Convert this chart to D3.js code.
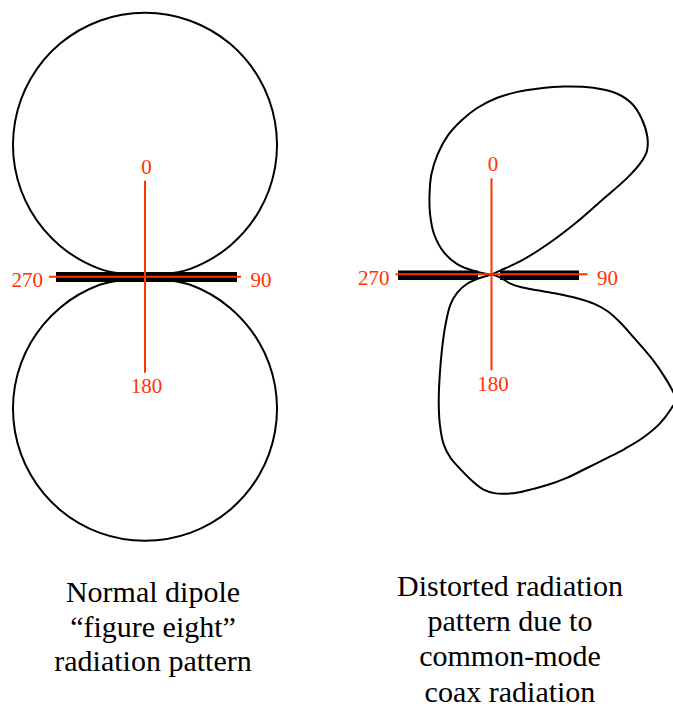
<!DOCTYPE html>
<html><head><meta charset="utf-8">
<script src="https://cdn.jsdelivr.net/npm/d3@7"></script>
<style>html,body{margin:0;padding:0;background:#fff;} svg{display:block}</style>
</head><body>
<svg id="chart" width="673" height="711"></svg>
<script>
// ---------------- data ----------------
// compass angles (degrees, 0 = up, clockwise) and labels of the reference axes
const axisAngles = [0, 90, 180, 270];
const axisLabels = ["0", "90", "180", "270"];

// normal dipole "figure eight": angle (deg) and relative field strength, in drawing order
const dipoleAngles = [90, 80, 70, 60, 50, 40, 30, 20, 10, 0, 350, 340, 330, 320, 310, 300, 290, 280,
                      270, 100, 110, 120, 130, 140, 150, 160, 170, 180, 190, 200, 210, 220, 230, 240, 250, 260];
const dipoleGain   = [0, 0.174, 0.342, 0.500, 0.643, 0.766, 0.866, 0.940, 0.985, 1.000, 0.985, 0.940, 0.866, 0.766, 0.643, 0.500, 0.342, 0.174,
                      0, 0.174, 0.342, 0.500, 0.643, 0.766, 0.866, 0.940, 0.985, 1.000, 0.985, 0.940, 0.866, 0.766, 0.643, 0.500, 0.342, 0.174];

// distorted pattern (common-mode coax radiation), angle (deg) and relative field strength, in drawing order
const distortedAngles = [70, 66.7, 65.6, 61.8, 58.8, 56.2, 54.6, 53.2, 51.6, 48.6, 44.0, 39.4, 34.7, 28.6, 20.98, 14.85, 8.1, 1.9,
                         355.2, 348.7, 342.4, 335.8, 329.0, 322.2, 314.3, 304.9, 294.5, 286.4, 280.7, 276.0,
                         270, 110.7, 116.3, 113.7, 109.3, 106.5, 105.6, 106.0, 107.6, 110.6, 114.0, 118.0, 120.7, 122.7, 124.2, 126.8, 131.6,
                         137.2, 142.6, 147.9, 153.9, 159.7, 165.4, 169.0, 172.7, 176.0, 178.95, 182.13, 185.24, 189.0, 192.6, 195.7, 199.0, 202.6, 207.3,
                         213.9, 222.6, 233.8, 241.8, 248.9, 252.5, 252.0];
const distortedGain   = [0, 0.038, 0.122, 0.241, 0.366, 0.498, 0.632, 0.706, 0.751, 0.787, 0.819, 0.837, 0.833, 0.805, 0.762, 0.729, 0.698, 0.669,
                         0.633, 0.592, 0.550, 0.498, 0.442, 0.383, 0.325, 0.265, 0.197, 0.134, 0.067, 0.022,
                         0, 0.036, 0.080, 0.120, 0.183, 0.259, 0.337, 0.403, 0.460, 0.522, 0.590, 0.693, 0.763, 0.814, 0.845, 0.850, 0.852,
                         0.844, 0.832, 0.822, 0.818, 0.822, 0.826, 0.828, 0.832, 0.833, 0.830, 0.816, 0.787, 0.748, 0.712, 0.669, 0.601, 0.520, 0.427,
                         0.335, 0.257, 0.192, 0.147, 0.099, 0.050, 0.017];

const captionNormal = ["Normal dipole", "\u201Cfigure eight\u201D", "radiation pattern"];
const captionDistorted = ["Distorted radiation", "pattern due to", "common-mode", "coax radiation"];

// ---------------- drawing ----------------
const RED = "#ff3300";
const SERIF = "'Liberation Serif', 'Times New Roman', Times, serif";
const svg = d3.select("#chart");
const rScale = d3.scaleLinear().domain([0, 1]).range([0, 264]);
const rad = d3.scaleLinear().domain([0, 360]).range([0, 2 * Math.PI]);
const ARM = 96;

const patternLine = d3.lineRadial()
  .angle(d => rad(d[0]))
  .radius(d => rScale(d[1]))
  .curve(d3.curveCatmullRomClosed.alpha(0.5));

const armLine = d3.lineRadial().angle(d => rad(d[0])).radius(d => d[1]);

function panel(cfg) {
  const g = svg.append("g").attr("transform", `translate(${cfg.cx},${cfg.cy})`);
  // dipole element (thick black bar)
  cfg.bars.forEach(b => {
    g.append("line")
      .attr("x1", b[0]).attr("x2", b[1])
      .attr("y1", cfg.barY).attr("y2", cfg.barY)
      .attr("stroke", "#000").attr("stroke-width", cfg.barW);
  });
  // pattern
  const pts = d3.zip(cfg.angles, cfg.gains);
  g.append("path").attr("d", patternLine(pts))
    .attr("fill", "none").attr("stroke", "#000").attr("stroke-width", 2);
  // red axes
  axisAngles.forEach((a) => {
    g.append("path").attr("d", armLine([[a, 0], [a, ARM]]))
      .attr("stroke", RED).attr("stroke-width", 2).attr("fill", "none");
  });
  // axis labels
  const lab = g.append("g").attr("font-family", SERIF).attr("font-size", 21).attr("fill", RED);
  axisLabels.forEach((t, i) => {
    const a = axisAngles[i];
    let x, y, anchor;
    if (a === 0) { x = 1.5; y = -103; anchor = "middle"; }
    else if (a === 180) { x = 1.5; y = 116.5; anchor = "middle"; }
    else if (a === 90) { x = 105.5; y = 10.5; anchor = "start"; }
    else { x = -102; y = 10.5; anchor = "end"; }
    lab.append("text").attr("x", x).attr("y", y).attr("text-anchor", anchor).text(t);
  });
}

panel({cx: 145, cy: 276.8, angles: dipoleAngles, gains: dipoleGain,
       bars: [[-89, 92]], barY: 0.2, barW: 10});
panel({cx: 491.5, cy: 274.3, angles: distortedAngles, gains: distortedGain,
       bars: [[-93.5, -13.5], [8.5, 87.5]], barY: 1, barW: 9.5});

function caption(lines, cx, y0, step) {
  const t = svg.append("g").attr("font-family", SERIF).attr("font-size", 30).attr("fill", "#000");
  lines.forEach((s, i) => {
    t.append("text").attr("x", cx).attr("y", y0 + i * step).attr("text-anchor", "middle").text(s);
  });
}
caption(captionNormal, 153, 602, 34.5);
caption(captionDistorted, 510, 596, 35.2);
</script>
</body></html>
